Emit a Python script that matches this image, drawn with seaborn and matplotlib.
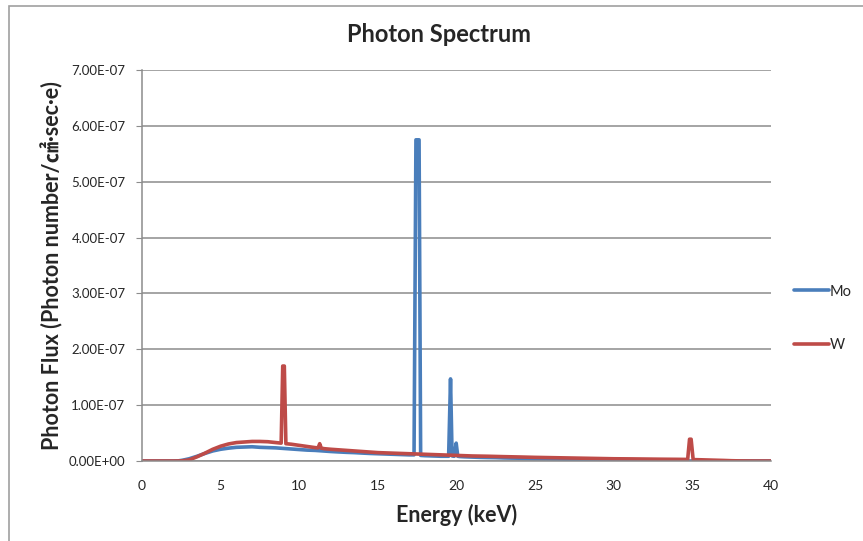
import numpy as np
import pandas as pd
import matplotlib
matplotlib.use('Agg')
import matplotlib.pyplot as plt
from matplotlib.ticker import FuncFormatter, MultipleLocator
from matplotlib.patches import Rectangle
import seaborn as sns

# Mo spectrum (energy in keV, flux in 1e-8)
mo_energy = [0, 0.5, 1, 1.5, 2, 2.3, 2.6, 3, 3.5, 4, 4.5, 5, 5.5, 6, 6.5, 7, 7.5, 8, 8.5, 9,
             9.5, 10, 10.5, 11, 11.5, 12, 12.5, 13, 13.5, 14, 14.5, 15, 15.5, 16, 16.5, 17,
             17.3, 17.42, 17.52, 17.62, 17.72, 18, 18.5, 19, 19.5, 19.62, 19.72, 19.85,
             19.98, 20.08, 20.2, 20.5, 21, 21.5, 22, 22.5, 23, 23.5, 24, 24.5, 25, 25.5,
             26, 26.5, 27, 27.5, 28, 28.5, 29, 29.5, 30, 30.5, 31, 31.5, 32, 33, 35, 37, 40]
mo_flux = [0, 0, 0, 0, 0, 0.02, 0.15, 0.4, 0.85, 1.35, 1.8, 2.1, 2.3, 2.45, 2.5, 2.55, 2.45, 2.4, 2.35, 2.25,
           2.15, 2.05, 1.95, 1.9, 1.8, 1.7, 1.62, 1.55, 1.5, 1.42, 1.35, 1.3, 1.25, 1.2, 1.15, 1.1,
           1.1, 57.5, 57.5, 57.5, 1.0, 0.95, 0.9, 0.85, 0.85, 14.7, 0.9, 0.85,
           3.2, 0.85, 0.8, 0.75, 0.7, 0.65, 0.62, 0.6, 0.55, 0.52, 0.5, 0.45, 0.42, 0.4,
           0.37, 0.35, 0.32, 0.3, 0.27, 0.25, 0.22, 0.2, 0.17, 0.14, 0.1, 0.06, 0.02, 0, 0, 0, 0]

# W spectrum (energy in keV, flux in 1e-8)
w_energy = [0, 0.5, 1, 1.5, 2, 2.5, 3, 3.5, 4, 4.5, 5, 5.5, 6, 6.5, 7, 7.5, 8, 8.5, 8.85,
            8.95, 9.05, 9.15, 9.5, 10, 10.5, 11, 11.2, 11.3, 11.4, 11.6, 12, 12.5, 13, 13.5,
            14, 14.5, 15, 15.5, 16, 16.5, 17, 17.5, 18, 18.5, 19, 19.5, 20, 20.5, 21, 22,
            23, 24, 25, 26, 27, 28, 29, 30, 31, 32, 33, 34, 34.7, 34.82, 34.92, 35.05, 35.5,
            36, 36.5, 37, 37.5, 38, 39, 40]
w_flux = [0, 0, 0, 0, 0, 0.02, 0.2, 0.75, 1.4, 2.1, 2.65, 3.05, 3.3, 3.4, 3.5, 3.5, 3.45, 3.3, 3.2,
          17.0, 17.0, 3.1, 3.0, 2.8, 2.6, 2.4, 2.35, 3.1, 2.3, 2.2, 2.1, 2.0, 1.9, 1.8,
          1.7, 1.6, 1.5, 1.45, 1.4, 1.35, 1.3, 1.25, 1.2, 1.15, 1.1, 1.05, 1.0, 0.95, 0.9, 0.85,
          0.78, 0.72, 0.65, 0.6, 0.55, 0.5, 0.45, 0.4, 0.38, 0.35, 0.32, 0.3, 0.28, 3.9, 3.9, 0.25, 0.22,
          0.18, 0.14, 0.1, 0.05, 0.02, 0, 0]

df = pd.concat([
    pd.DataFrame({'energy': mo_energy, 'flux': np.array(mo_flux) * 1e-8, 'target': 'Mo'}),
    pd.DataFrame({'energy': w_energy, 'flux': np.array(w_flux) * 1e-8, 'target': 'W'}),
])

sns.set_style('white')
plt.rcParams['font.family'] = ['Lato', 'Noto Sans CJK JP', 'DejaVu Sans']

fig = plt.figure(figsize=(8.63, 5.41), dpi=100)
ax = fig.add_axes([142/863, 1 - 461/541, 629/863, 391/541])

sns.lineplot(data=df, x='energy', y='flux', hue='target', sort=False,
             palette={'Mo': '#4A7EBB', 'W': '#BE4B48'}, linewidth=2.6, ax=ax)

ax.set_xlim(0, 40)
ax.set_ylim(0, 7e-7)
ax.xaxis.set_major_locator(MultipleLocator(5))
ax.yaxis.set_major_locator(MultipleLocator(1e-7))
ax.yaxis.set_major_formatter(FuncFormatter(lambda v, p: f'{v:.2E}'))
ax.grid(axis='y', color='#8c8c8c', linewidth=1.1)
ax.set_axisbelow(True)
for s in ['top', 'right']:
    ax.spines[s].set_visible(False)
for s in ['left', 'bottom']:
    ax.spines[s].set_color('#8c8c8c')
    ax.spines[s].set_linewidth(1.1)
ax.tick_params(axis='y', length=4, color='#8c8c8c', labelsize=9.5, pad=8, left=True)
ax.tick_params(axis='x', length=0, labelsize=10, pad=14)

fig.text(439/863, 1 - 35/541, 'Photon Spectrum', fontsize=17, fontweight='bold',
         ha='center', va='center')
ax.set_xlabel('Energy (keV)', fontsize=15.5, fontweight='bold', labelpad=8)
ax.set_ylabel('Photon Flux (Photon number/㎠·sec·e)', fontsize=15.5, fontweight='bold', labelpad=4)

ax.legend(loc='center left', bbox_to_anchor=(1.015, 0.365), frameon=False, fontsize=10.5,
          handlelength=2.4, handletextpad=0.1, labelspacing=2.7)

fig.patches.append(Rectangle((9/863, -0.05), 1.2, 1 - 6/541 + 0.05, transform=fig.transFigure,
                             fill=False, edgecolor='#a0a0a0', linewidth=1.2))

fig.savefig('out.png', dpi=100)
